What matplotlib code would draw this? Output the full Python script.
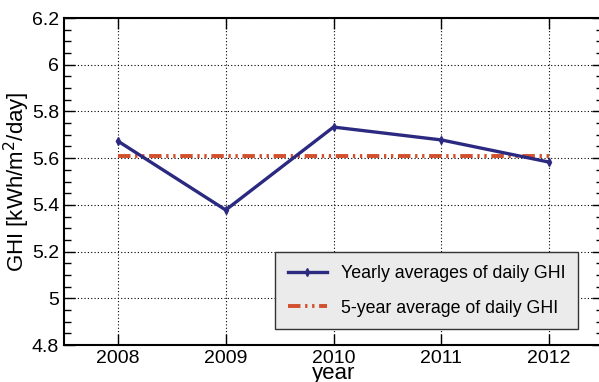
import matplotlib
matplotlib.use("Agg")
import matplotlib.pyplot as plt
from matplotlib.ticker import MultipleLocator

years = [2008, 2009, 2010, 2011, 2012]
ghi_yearly = [5.673, 5.378, 5.733, 5.678, 5.583]
ghi_5yr = [5.609, 5.609, 5.609, 5.609, 5.609]
yticks = [4.8, 5.0, 5.2, 5.4, 5.6, 5.8, 6.0, 6.2]
ytick_labels = ["4.8", "5", "5.2", "5.4", "5.6", "5.8", "6", "6.2"]

plt.rcParams['font.family'] = ['Liberation Sans', 'DejaVu Sans']

fig = plt.figure(figsize=(5.99, 3.82), dpi=100)
ax = fig.add_axes([64/599, 37/382, 539/599, 327/382])

ax.plot(years, ghi_yearly, color='#2b2a80', lw=2.4, marker='d', ms=4,
        label='Yearly averages of daily GHI', zorder=3)
ax.plot(years, ghi_5yr, color='#d2502e', lw=2.8, dashes=[3.2, 1.2, 0.6, 1.2, 0.6, 1.2],
        label='5-year average of daily GHI', zorder=2)

ax.set_xlim(2007.5, 2012.5)
ax.set_ylim(4.8, 6.2)
ax.set_xticks(years)
ax.set_xticklabels([str(y) for y in years])
ax.set_yticks(yticks)
ax.set_yticklabels(ytick_labels)
ax.yaxis.set_minor_locator(MultipleLocator(0.05))

ax.grid(True, which='major', color='black', linestyle=(0, (1, 2)), lw=0.8)
ax.tick_params(which='both', direction='in', top=True, right=True, labelsize=14)
ax.tick_params(which='major', length=8, width=1)
ax.tick_params(which='minor', length=5, width=1)
for s in ax.spines.values():
    s.set_linewidth(1.5)
    s.set_color('black')

ax.set_xlabel('year', fontsize=16, labelpad=-3)
ax.set_ylabel('GHI [kWh/m$^2$/day]', fontsize=16, labelpad=0)

leg = ax.legend(loc='lower right', bbox_to_anchor=(578/599, 53/382), bbox_transform=fig.transFigure,
                fontsize=12.8, frameon=True, fancybox=False, handlelength=2.2,
                borderpad=0.7, labelspacing=1.0, handletextpad=0.8, borderaxespad=0)
leg.get_frame().set_facecolor('#ebebeb')
leg.get_frame().set_edgecolor('#333333')
leg.get_frame().set_alpha(1)
leg.get_frame().set_linewidth(1)

fig.savefig('out.png', dpi=100)
